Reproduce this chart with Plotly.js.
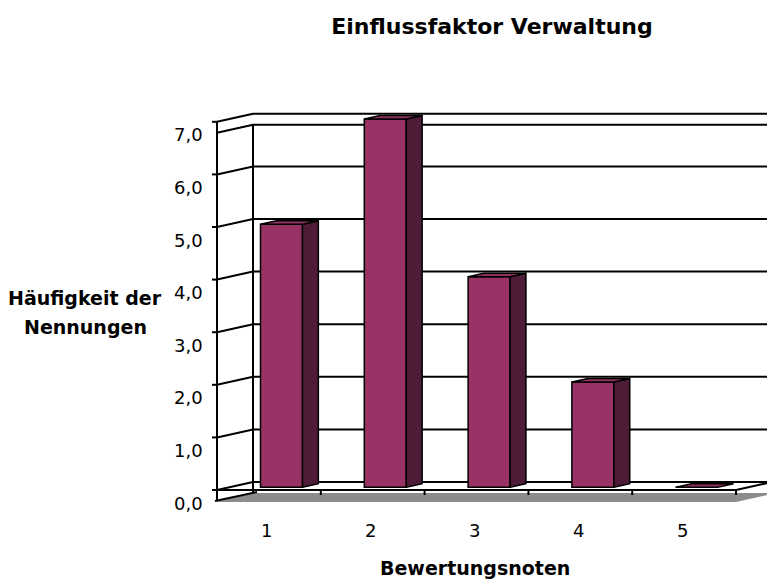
<!DOCTYPE html>
<html>
<head>
<meta charset="utf-8">
<script src="https://cdn.plot.ly/plotly-3.0.1.min.js"></script>
<style>html,body{margin:0;padding:0;background:#fff;}#chart{width:767px;height:580px;}</style>
</head>
<body>
<div id="chart"></div>
<script>
// ---- data ----
const categories = ['1', '2', '3', '4', '5'];
const values = [5, 7, 4, 2, 0];
const yTickVals = [0, 1, 2, 3, 4, 5, 6, 7];
const yTickText = ['0,0', '1,0', '2,0', '3,0', '4,0', '5,0', '6,0', '7,0'];
const chartTitle = 'Einflussfaktor Verwaltung';
const xTitle = 'Bewertungsnoten';
const yTitleLines = ['Häufigkeit der', 'Nennungen'];

// ---- geometry (pixel calibration of the pseudo-3D frame) ----
const W = 767, H = 580;
const PXX = 103.8, X0 = 217;   // px per category, px of front-left edge (x = 0.5)
const PXY = 52.6, Y0 = 490;    // px per unit value, px of front floor (y = 0)
const px2x = p => 0.5 + (p - X0) / PXX;
const py2y = p => (Y0 - p) / PXY;
const DX = 36 / PXX, DY = 8 / PXY;      // depth offset (front -> back wall)
const F1 = 0.35, F2 = 0.79;             // bar front / back depth fractions
const HW = 21 / PXX;                     // half bar width
const FONT = 'DejaVu Sans';

const xRight = px2x(W + 40);
const shapes = [];
const L = (x0, y0, x1, y1, w) => shapes.push({type: 'line', xref: 'x', yref: 'y', x0, y0, x1, y1, layer: 'below',
  line: {color: '#000', width: w || 2}});

// floor shadow
const P = (a, b) => px2x(a) + ',' + py2y(b);
shapes.push({type: 'path', xref: 'x', yref: 'y', layer: 'below', line: {width: 0}, fillcolor: '#8c8c8c',
  path: 'M' + P(215, 502) + ' L' + P(253, 493) + ' L' + P(W + 5, 493) + ' L' + P(W + 5, 494) + ' L' + P(736, 502) + ' Z'});

// gridlines on back wall and side wall, ticks
yTickVals.forEach(v => {
  L(0.5 + DX, v + DY, xRight, v + DY);
  L(0.5, v, 0.5 + DX, v + DY);
  L(px2x(212), v, 0.5, v);
});
// wall top rim
const rim = 7 - 11 / PXY;
L(0.5, rim, 0.5 + DX, rim + DY);
L(0.5 + DX, rim + DY, xRight, rim + DY);
// verticals
L(0.5, py2y(501), 0.5, 7);
L(0.5 + DX, py2y(492), 0.5 + DX, rim + DY);
// floor edges
L(px2x(215), 0, categories.length + 0.5, 0);
L(categories.length + 0.5, 0, categories.length + 0.5 + DX, DY);
L(px2x(215), py2y(501), px2x(257), py2y(492));
// floor ticks at category boundaries
categories.forEach((c, i) => L(i + 1.5, 0, i + 1.5, py2y(495)));

// ---- traces ----
const xs = categories.map((c, i) => i + 1);
const traces = [];
traces.push({
  type: 'bar', x: xs.map(x => x + F1 * DX), y: values, base: values.map(() => F1 * DY),
  width: 2 * HW, marker: {color: '#993366', line: {color: '#000', width: 1.5}},
  hoverinfo: 'skip', showlegend: false
});
const ddx = (F2 - F1) * DX, ddy = (F2 - F1) * DY;
xs.forEach((x, i) => {
  const v = values[i];
  const xl = x + F1 * DX - HW, xr = x + F1 * DX + HW;
  const b = F1 * DY, t = v + F1 * DY;
  if (v > 0) {
    traces.push({type: 'scatter', mode: 'lines', fill: 'toself', fillcolor: '#4f1c38',
      x: [xr, xr, xr + ddx, xr + ddx, xr], y: [b, t, t + ddy, b + ddy, b],
      line: {color: '#000', width: 1.5}, hoverinfo: 'skip', showlegend: false});
  }
  traces.push({type: 'scatter', mode: 'lines', fill: 'toself', fillcolor: '#8f305f',
    x: [xl, xr, xr + ddx, xl + ddx, xl], y: [t, t, t + ddy, t + ddy, t],
    line: {color: '#000', width: 1.5}, hoverinfo: 'skip', showlegend: false});
});

// ---- annotations ----
const ann = [];
yTickVals.forEach((v, i) => ann.push({xref: 'x', yref: 'y', x: px2x(205), y: v - 13 / PXY,
  xanchor: 'right', yanchor: 'middle', showarrow: false, text: yTickText[i],
  font: {family: FONT, size: 18, color: '#000'}}));
categories.forEach((c, i) => ann.push({xref: 'x', yref: 'y', x: xs[i] - 2 / PXX, y: py2y(530),
  xanchor: 'center', yanchor: 'middle', showarrow: false, text: c,
  font: {family: FONT, size: 18, color: '#000'}}));
ann.push({xref: 'x', yref: 'y', x: px2x(475), y: py2y(568), xanchor: 'center', yanchor: 'middle',
  showarrow: false, text: '<b>' + xTitle + '</b>', font: {family: FONT, size: 19, color: '#000'}});
ann.push({xref: 'x', yref: 'y', x: px2x(85), y: py2y(298), xanchor: 'center', yanchor: 'middle',
  showarrow: false, text: '<b>' + yTitleLines[0] + '</b>', font: {family: FONT, size: 19, color: '#000'}});
ann.push({xref: 'x', yref: 'y', x: px2x(85), y: py2y(327), xanchor: 'center', yanchor: 'middle',
  showarrow: false, text: '<b>' + yTitleLines[1] + '</b>', font: {family: FONT, size: 19, color: '#000'}});

const layout = {
  width: W, height: H, margin: {l: 0, r: 0, t: 0, b: 0},
  paper_bgcolor: '#fff', plot_bgcolor: '#fff',
  title: {text: '<b>' + chartTitle + '</b>', x: 492 / W, xanchor: 'center', xref: 'paper',
    y: 1 - 26 / H, yanchor: 'middle', yref: 'container', font: {family: FONT, size: 22, color: '#000'}},
  xaxis: {range: [px2x(0), px2x(W)], showgrid: false, zeroline: false, showticklabels: false, showline: false, fixedrange: true},
  yaxis: {range: [py2y(H), py2y(0)], showgrid: false, zeroline: false, showticklabels: false, showline: false, fixedrange: true},
  shapes: shapes, annotations: ann, showlegend: false, bargap: 0
};
Plotly.newPlot('chart', traces, layout, {staticPlot: true, displayModeBar: false});
</script>
</body>
</html>
